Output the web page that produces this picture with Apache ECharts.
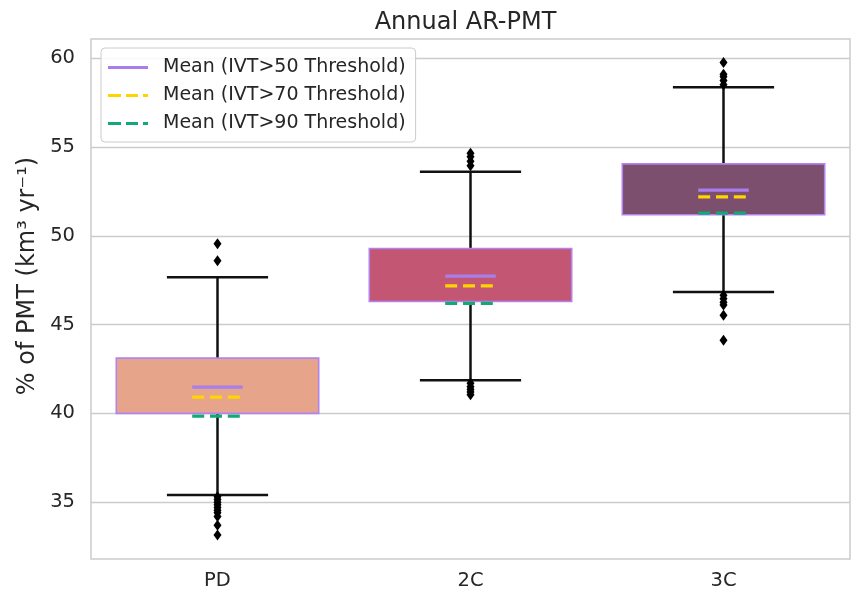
<!DOCTYPE html>
<html>
<head>
<meta charset="utf-8">
<script src="https://cdn.jsdelivr.net/npm/echarts@6/dist/echarts.min.js"></script>
<style>
  html, body { margin: 0; padding: 0; background: #ffffff; }
  #chart { width: 851px; height: 593px; }
</style>
</head>
<body>
<div id="chart"></div>
<script>
// Scenario labels along the x axis
const categories = ['PD', '2C', '3C'];

// Box statistics (% of PMT)
const q1 = [40.0, 46.3, 51.18];
const q3 = [43.11, 49.28, 54.05];
const whiskerLow = [35.4, 41.87, 46.84];
const whiskerHigh = [47.67, 53.6, 58.37];

// Means for the three IVT thresholds
const mean50 = [41.48, 47.73, 52.57];
const mean70 = [40.91, 47.18, 52.19];
const mean90 = [39.84, 46.19, 51.27];

// Points beyond the whiskers, per scenario
const outliersPD = [49.55, 48.6, 35.3, 35.15, 35.0, 34.85, 34.7, 34.55, 34.4, 34.2, 33.7, 33.15];
const outliers2C = [54.65, 54.45, 54.2, 53.95, 41.7, 41.5, 41.35, 41.2, 41.05];
const outliers3C = [59.75, 59.1, 58.95, 58.75, 58.5, 46.65, 46.45, 46.25, 46.1, 45.53, 44.12];

// Y axis ticks
const yTicks = [35, 40, 45, 50, 55, 60];

const boxColors = ['#E6A58A', '#C35672', '#7B4F6D'];
const boxEdge = '#B283EE';
const meanColors = { m50: '#A97EEA', m70: '#FFD400', m90: '#13A77B' };
const FONT = 'DejaVu Sans';

const boxData = categories.map((c, i) => [i, q1[i], q3[i], whiskerLow[i], whiskerHigh[i]]);
const outlierData = [];
[outliersPD, outliers2C, outliers3C].forEach((arr, i) => arr.forEach(v => outlierData.push([i, v])));

function renderBox(params, api) {
  const i = api.value(0);
  const band = api.size([1, 0])[0];
  const bw = band * 0.8;
  const cw = bw * 0.5;
  const pQ1 = api.coord([i, api.value(1)]);
  const pQ3 = api.coord([i, api.value(2)]);
  const pLo = api.coord([i, api.value(3)]);
  const pHi = api.coord([i, api.value(4)]);
  const x = pQ1[0];
  const black = { stroke: '#111111', lineWidth: 2.5 };
  return {
    type: 'group',
    children: [
      { type: 'line', shape: { x1: x, y1: pQ3[1], x2: x, y2: pHi[1] }, style: black },
      { type: 'line', shape: { x1: x, y1: pQ1[1], x2: x, y2: pLo[1] }, style: black },
      { type: 'line', shape: { x1: x - cw / 2, y1: pHi[1], x2: x + cw / 2, y2: pHi[1] }, style: black },
      { type: 'line', shape: { x1: x - cw / 2, y1: pLo[1], x2: x + cw / 2, y2: pLo[1] }, style: black },
      {
        type: 'rect',
        shape: { x: x - bw / 2, y: pQ3[1], width: bw, height: pQ1[1] - pQ3[1] },
        style: { fill: boxColors[i], stroke: boxEdge, lineWidth: 1.6 }
      }
    ]
  };
}

function meanRenderer(color, dashed) {
  return function (params, api) {
    const i = api.value(0);
    const band = api.size([1, 0])[0];
    const p = api.coord([i, api.value(1)]);
    const hw = band * 0.1;
    return {
      type: 'line',
      shape: { x1: p[0] - hw, y1: p[1], x2: p[0] + hw, y2: p[1] },
      style: { stroke: color, lineWidth: 3.2, lineDash: dashed ? [12, 5.8] : null }
    };
  };
}

const solidIcon = 'path://M0,0H40V3H0Z';
const dashIcon = 'path://M0,0H13V3H0Z M18,0H30V3H18Z M35,0H40V3H35Z';

const chart = echarts.init(document.getElementById('chart'), null, { renderer: 'canvas' });
chart.setOption({
  animation: false,
  backgroundColor: '#ffffff',
  graphic: [
    {
      type: 'text', x: 465.5, y: 23,
      style: { text: 'Annual AR-PMT', fill: '#262626', font: '24px "DejaVu Sans"', textAlign: 'center', textVerticalAlign: 'middle' }
    },
    {
      type: 'text', x: 28, y: 276, rotation: Math.PI / 2,
      style: { text: '% of PMT (km³ yr⁻¹)', fill: '#262626', font: '24px "DejaVu Sans"', textAlign: 'center', textVerticalAlign: 'middle' }
    }
  ],
  grid: { left: 91, right: 1, top: 39, bottom: 34, show: true, borderColor: '#cccccc', borderWidth: 1.5, backgroundColor: 'transparent' },
  legend: {
    orient: 'vertical', left: 101, top: 48,
    padding: [10, 10, 9, 7], itemGap: 9, itemWidth: 40, itemHeight: 3,
    backgroundColor: 'rgba(255,255,255,0.85)', borderColor: '#cccccc', borderWidth: 1, borderRadius: 4,
    textStyle: { fontFamily: FONT, fontSize: 19, color: '#262626', padding: [0, 0, 0, 10] },
    data: [
      { name: 'Mean (IVT>50 Threshold)', icon: solidIcon, itemStyle: { color: meanColors.m50 } },
      { name: 'Mean (IVT>70 Threshold)', icon: dashIcon, itemStyle: { color: meanColors.m70 } },
      { name: 'Mean (IVT>90 Threshold)', icon: dashIcon, itemStyle: { color: meanColors.m90 } }
    ]
  },
  xAxis: {
    type: 'category', data: categories, boundaryGap: true,
    axisLine: { show: false }, axisTick: { show: false }, splitLine: { show: false },
    axisLabel: { fontFamily: FONT, fontSize: 19.5, color: '#262626', margin: 12 }
  },
  yAxis: {
    type: 'value', min: 31.8, max: 61.08,
    axisLine: { show: false },
    axisTick: { show: false, customValues: yTicks },
    splitLine: { show: true, lineStyle: { color: '#cccccc', width: 1.3 } },
    axisLabel: {
      fontFamily: FONT, fontSize: 19.5, color: '#262626', margin: 16,
      customValues: yTicks,
      formatter: v => String(v)
    }
  },
  series: [
    {
      type: 'custom', name: 'boxes', renderItem: renderBox, data: boxData,
      encode: { x: 0, y: [1, 2, 3, 4] }, z: 2
    },
    {
      type: 'scatter', name: 'outliers', data: outlierData, symbol: 'diamond', symbolSize: [8, 11],
      itemStyle: { color: '#000000', opacity: 1 }, z: 3
    },
    {
      type: 'custom', name: 'Mean (IVT>50 Threshold)', renderItem: meanRenderer(meanColors.m50, false),
      data: categories.map((c, i) => [i, mean50[i]]), encode: { x: 0, y: 1 },
      itemStyle: { color: meanColors.m50 }, z: 4
    },
    {
      type: 'custom', name: 'Mean (IVT>70 Threshold)', renderItem: meanRenderer(meanColors.m70, true),
      data: categories.map((c, i) => [i, mean70[i]]), encode: { x: 0, y: 1 },
      itemStyle: { color: meanColors.m70 }, z: 4
    },
    {
      type: 'custom', name: 'Mean (IVT>90 Threshold)', renderItem: meanRenderer(meanColors.m90, true),
      data: categories.map((c, i) => [i, mean90[i]]), encode: { x: 0, y: 1 },
      itemStyle: { color: meanColors.m90 }, z: 4
    }
  ]
});
</script>
</body>
</html>
